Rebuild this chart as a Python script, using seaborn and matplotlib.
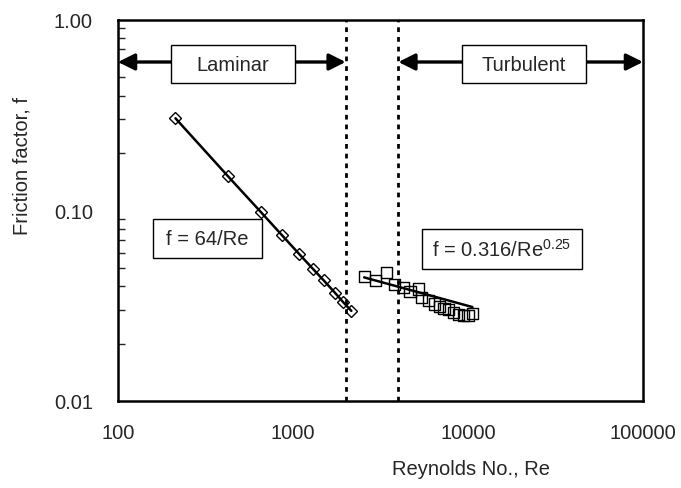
import matplotlib
matplotlib.use("Agg")
import matplotlib.pyplot as plt
import matplotlib.patches as mpatches
import seaborn as sns

# laminar measurements
lam_re = [213, 425, 655, 860, 1085, 1295, 1495, 1735, 1935, 2155]
lam_f = [0.304, 0.151, 0.098, 0.0745, 0.059, 0.0495, 0.043, 0.037, 0.033, 0.0297]

# turbulent measurements
turb_re = [2550, 2970, 3430, 3790, 4270, 4660, 5200, 5440, 5930, 6420,
           6850, 7290, 7710, 8240, 8800, 9400, 10000, 10600]
turb_f = [0.0451, 0.0430, 0.0474, 0.0408, 0.0395, 0.0375, 0.0387, 0.0350, 0.0336, 0.0323,
          0.0314, 0.0307, 0.0301, 0.0292, 0.0284, 0.0281, 0.0282, 0.0287]

# Blasius fit segment
fit_re = [2550, 10600]
fit_f = [0.0445, 0.0311]

transition_re = [2000, 4000]
regime_y = 0.6
x_ticks = [100, 1000, 10000, 100000]
x_labels = ["100", "1000", "10000", "100000"]
y_ticks = [0.01, 0.1, 1.0]
y_labels = ["0.01", "0.10", "1.00"]

sns.set_style("white")
plt.rcParams["font.family"] = ["Liberation Sans", "DejaVu Sans"]
plt.rcParams["mathtext.fontset"] = "custom"
plt.rcParams["mathtext.rm"] = "Liberation Sans"
FS = 14.5

fig = plt.figure(figsize=(6.81, 4.89), dpi=100)
ax = fig.add_axes([118 / 681, 87 / 489, 525 / 681, 381.3 / 489])

sns.lineplot(x=lam_re, y=lam_f, ax=ax, color="black", lw=1.8, marker="D",
             markersize=6.3, markerfacecolor="none", markeredgecolor="black",
             markeredgewidth=1.0, sort=False)
sns.lineplot(x=fit_re, y=fit_f, ax=ax, color="black", lw=1.8, sort=False)
sns.scatterplot(x=turb_re, y=turb_f, ax=ax, marker="s", s=65,
                facecolor="none", edgecolor="black", linewidth=1.0)

ax.set_xscale("log")
ax.set_yscale("log")
ax.set_xlim(100, 100000)
ax.set_ylim(0.01, 1)

for xv in transition_re:
    ax.axvline(xv, color="black", lw=2, linestyle=(0, (1.7, 1.8)), zorder=3)

# regime arrows
arrow_kw = dict(arrowstyle="<|-|>", color="black", lw=2.4,
                mutation_scale=25, shrinkA=0, shrinkB=0)
ax.annotate("", xy=(100, regime_y), xytext=(transition_re[0], regime_y),
            arrowprops=arrow_kw)
ax.annotate("", xy=(transition_re[1], regime_y), xytext=(100000, regime_y),
            arrowprops=arrow_kw)


def label_box(x0, y0, w, h, text):
    ax.add_patch(mpatches.Rectangle((x0, y0), w, h, transform=ax.transAxes,
                                    facecolor="white", edgecolor="black",
                                    lw=1.0, zorder=5))
    ax.text(x0 + w / 2, y0 + h / 2, text, transform=ax.transAxes,
            ha="center", va="center", fontsize=FS, zorder=6)


label_box(0.101, 0.833, 0.236, 0.100, "Laminar")
label_box(0.655, 0.833, 0.236, 0.100, "Turbulent")
label_box(0.066, 0.374, 0.208, 0.103, "f = 64/Re")
label_box(0.5785, 0.346, 0.305, 0.105, r"f = 0.316/$\mathregular{Re^{0.25}}$")

ax.set_xticks(x_ticks)
ax.set_xticklabels(x_labels)
ax.set_yticks(y_ticks)
ax.set_yticklabels(y_labels)
ax.xaxis.set_minor_locator(matplotlib.ticker.NullLocator())
ax.yaxis.set_minor_locator(matplotlib.ticker.LogLocator(base=10, subs=range(2, 10)))
ax.tick_params(axis="x", which="major", direction="in", length=6, width=1,
               labelsize=FS, pad=16, top=False)
ax.tick_params(axis="y", which="major", direction="in", length=6, width=1,
               labelsize=FS, pad=18, right=False)
ax.tick_params(axis="y", which="minor", direction="in", length=5, width=1,
               left=True, right=False)
for sp in ax.spines.values():
    sp.set_color("black")
    sp.set_linewidth(1.8)

fig.text(471 / 681, 1 - 470 / 489, "Reynolds No., Re", ha="center", va="center",
         fontsize=FS)
fig.text(22 / 681, 1 - 166 / 489, "Friction factor, f", ha="center", va="center",
         rotation=90, fontsize=FS)

fig.savefig("out.png", dpi=100)
